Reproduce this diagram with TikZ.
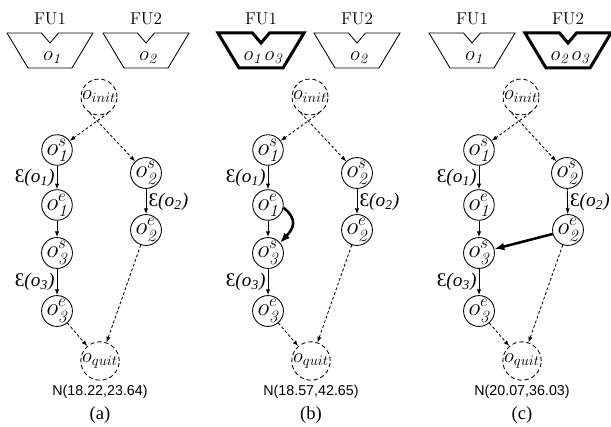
\documentclass[tikz,border=0pt]{standalone}
\usepackage{fontspec}
\newfontfamily\capfont{Liberation Serif}
\newfontfamily\numfont{Liberation Sans}
\usetikzlibrary{arrows.meta}

\newcommand{\opn}[2]{$o^{#2}_{\mathit{#1}}$}
\newcommand{\cost}[1]{{\capfont Ɛ\itshape(o\textsubscript{#1})}}

\tikzset{
	op/.style={draw,circle,inner sep=0pt,minimum size=21pt,line width=0.6pt,font=\LARGE},
	term/.style={draw,circle,densely dashed,inner sep=0pt,minimum size=23pt,line width=0.6pt,font=\Large},
	seq/.style={line width=0.6pt,-{Latex[length=4pt,width=3pt]}},
	dep/.style={line width=0.6pt,dash pattern=on 2pt off 1.5pt,-{Latex[length=4pt,width=3pt]}},
	extra/.style={line width=1.8pt,-{Latex[length=7pt,width=5.5pt]}},
	lab/.style={font=\fontsize{13.5}{15}\selectfont,inner sep=1.5pt},
	fulab/.style={font=\large},
	futext/.style={font=\Large},
	fu/.style={line width=0.6pt},
	busy/.style={line width=2.1pt},
	pics/unit/.style={code={\draw[#1] (-43,0) -- (-8.5,0) -- (0,10) -- (8.5,0) -- (43,0) -- (22,35) -- (-22,35) -- cycle;}},
	pics/unit/.default=fu
}

\begin{document}
\begin{tikzpicture}[x=0.7pt,y=-0.7pt]
	\useasboundingbox (0,0) rectangle (611,427);

	% (a)
	\begin{scope}
	\node[fulab] (a-fu1) at (50,19) {FU1};
	\node[fulab] (a-fu2) at (146,19) {FU2};
	\pic at (50,33) {unit};
	\pic at (146,33) {unit};
	\node[futext] (a-fu1t) at (52,58) {$o_{\mathit1}$};
	\node[futext] (a-fu2t) at (148,58) {$o_{\mathit2}$};
	\node[term] (a-init) at (99,97) {$o_{init}$};
	\node[op] (a-o1s) at (57,150) {\opn{1}{s}};
	\node[op] (a-o1e) at (57,205) {\opn{1}{e}};
	\node[op] (a-o3s) at (57,253) {\opn{3}{s}};
	\node[op] (a-o3e) at (57,311) {\opn{3}{e}};
	\node[op] (a-o2s) at (146,173) {\opn{2}{s}};
	\node[op] (a-o2e) at (146,230) {\opn{2}{e}};
	\node[term] (a-quit) at (100,361) {$o_{quit}$};
	\draw[dep] (a-init.-60) -- (a-o1s);
	\draw[dep] (a-init.-120) -- (a-o2s);
	\draw[seq] (a-o1s) -- node[lab,left] (a-l1) {\cost{1}} (a-o1e);
	\draw[seq] (a-o1e) -- (a-o3s);
	\draw[seq] (a-o3s) -- node[lab,left] (a-l3) {\cost{3}} (a-o3e);
	\draw[seq] (a-o2s) -- node[lab,right] (a-l2) {\cost{2}} (a-o2e);
	\draw[dep] (a-o3e) -- (a-quit);
	\draw[dep] (a-o2e) -- (a-quit);
	\node[font=\numfont] (a-n) at (100,392) {N(18.22,23.64)};
	\node[font=\capfont\fontsize{13}{15}\selectfont] (a-cap) at (100,415) {(a)};
	\end{scope}

	% (b)
	\begin{scope}[shift={(211,0)}]
	\node[fulab] (b-fu1) at (50,19) {FU1};
	\node[fulab] (b-fu2) at (146,19) {FU2};
	\pic at (50,33) {unit=busy};
	\pic at (146,33) {unit};
	\node[futext] (b-fu1t) at (52,58) {$o_{\mathit1}\,o_{\mathit3}$};
	\node[futext] (b-fu2t) at (148,58) {$o_{\mathit2}$};
	\node[term] (b-init) at (99,97) {$o_{init}$};
	\node[op] (b-o1s) at (57,150) {\opn{1}{s}};
	\node[op] (b-o1e) at (57,205) {\opn{1}{e}};
	\node[op] (b-o3s) at (57,253) {\opn{3}{s}};
	\node[op] (b-o3e) at (57,311) {\opn{3}{e}};
	\node[op] (b-o2s) at (146,173) {\opn{2}{s}};
	\node[op] (b-o2e) at (146,230) {\opn{2}{e}};
	\node[term] (b-quit) at (100,361) {$o_{quit}$};
	\draw[dep] (b-init.-60) -- (b-o1s);
	\draw[dep] (b-init.-120) -- (b-o2s);
	\draw[seq] (b-o1s) -- node[lab,left] (b-l1) {\cost{1}} (b-o1e);
	\draw[seq] (b-o1e) -- (b-o3s);
	\draw[seq] (b-o3s) -- node[lab,left] (b-l3) {\cost{3}} (b-o3e);
	\draw[seq] (b-o2s) -- node[lab,right] (b-l2) {\cost{2}} (b-o2e);
	\draw[dep] (b-o3e) -- (b-quit);
	\draw[dep] (b-o2e) -- (b-quit);
	\draw[extra] (b-o1e.-10) .. controls +(15,12) and +(13,-14) .. (b-o3s.40);
	\node[font=\numfont] (b-n) at (100,392) {N(18.57,42.65)};
	\node[font=\capfont\fontsize{13}{15}\selectfont] (b-cap) at (100,415) {(b)};
	\end{scope}

	% (c)
	\begin{scope}[shift={(422,0)}]
	\node[fulab] (c-fu1) at (50,19) {FU1};
	\node[fulab] (c-fu2) at (146,19) {FU2};
	\pic at (50,33) {unit};
	\pic at (146,33) {unit=busy};
	\node[futext] (c-fu1t) at (52,58) {$o_{\mathit1}$};
	\node[futext] (c-fu2t) at (148,58) {$o_{\mathit2}\,o_{\mathit3}$};
	\node[term] (c-init) at (99,97) {$o_{init}$};
	\node[op] (c-o1s) at (57,150) {\opn{1}{s}};
	\node[op] (c-o1e) at (57,205) {\opn{1}{e}};
	\node[op] (c-o3s) at (57,253) {\opn{3}{s}};
	\node[op] (c-o3e) at (57,311) {\opn{3}{e}};
	\node[op] (c-o2s) at (145,173) {\opn{2}{s}};
	\node[op] (c-o2e) at (146,230) {\opn{2}{e}};
	\node[term] (c-quit) at (100,361) {$o_{quit}$};
	\draw[dep] (c-init.-60) -- (c-o1s);
	\draw[dep] (c-init.-120) -- (c-o2s);
	\draw[seq] (c-o1s) -- node[lab,left] (c-l1) {\cost{1}} (c-o1e);
	\draw[seq] (c-o1e) -- (c-o3s);
	\draw[seq] (c-o3s) -- node[lab,left] (c-l3) {\cost{3}} (c-o3e);
	\draw[seq] (c-o2s) -- node[lab,right] (c-l2) {\cost{2}} (c-o2e);
	\draw[dep] (c-o3e) -- (c-quit);
	\draw[dep] (c-o2e) -- (c-quit);
	\draw[extra] (c-o2e) -- (c-o3s);
	\node[font=\numfont] (c-n) at (100,392) {N(20.07,36.03)};
	\node[font=\capfont\fontsize{13}{15}\selectfont] (c-cap) at (100,415) {(c)};
	\end{scope}
\end{tikzpicture}
\end{document}
